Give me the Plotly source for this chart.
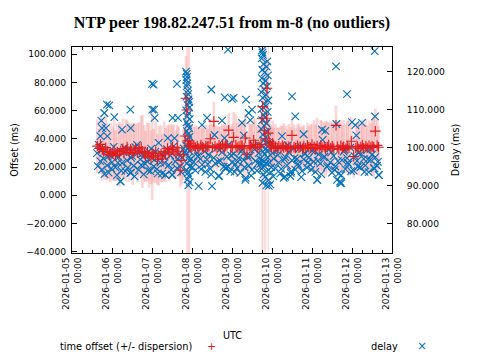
import plotly.graph_objects as go
from datetime import datetime, timedelta

BASE = datetime(2026, 1, 5)

# ---------------- time offset (ms) with dispersion (ms) ----------------
offset_hours = [
    15.2, 16.4, 17.1, 18.3, 19.0, 20.2, 21.1, 22.3, 23.0, 24.4, 25.3, 26.1, 27.2, 28.4, 29.3, 30.5, 31.2,
    32.4, 33.1, 34.3, 35.2, 36.4, 37.3, 38.2, 39.4, 40.3, 41.5, 42.2, 43.4, 44.1, 45.3, 46.2, 47.4, 48.1,
    49.0, 50.2, 51.3, 52.1, 53.4, 54.2, 55.3, 56.1, 57.3, 58.2, 59.4, 60.3, 61.1, 62.4, 63.2, 64.1, 64.9,
    65.9, 66.9,
    67.8, 68.4, 68.9, 69.5, 70.0, 70.6, 71.2,
    72.0, 73.1, 74.0, 75.2, 76.1, 77.3, 78.2, 79.0, 80.3, 81.2, 82.1, 83.0, 84.2, 85.1, 85.8, 87.0, 88.2,
    89.1, 90.3, 91.2, 92.0, 93.0, 94.0, 95.3, 96.2, 97.0, 98.3, 99.1, 100.2, 101.4, 102.1, 103.3, 104.0,
    105.0, 106.3, 107.2, 108.0, 109.0, 110.1, 111.2, 112.3,
    113.4, 114.0, 114.4, 115.4, 116.2, 116.8, 117.0, 117.8, 118.3, 119.0, 119.7, 120.4,
    121.1, 122.0, 123.2, 124.1, 125.3, 126.2, 127.0, 128.3, 129.2, 130.1, 131.3, 132.0, 133.2, 134.1,
    135.3, 136.2, 137.0, 138.3, 139.1, 140.2, 141.3, 142.1, 143.2, 144.0, 145.3, 146.2, 147.1, 148.3,
    149.2, 150.0, 151.3, 152.1, 153.2, 154.0, 155.3, 156.2, 157.1, 158.4, 159.2, 160.1, 161.3, 162.2,
    163.0, 164.3, 165.2, 166.2, 167.6, 169.0, 170.3, 171.2, 172.1, 173.3, 174.2, 175.0, 176.3, 177.1,
    178.2, 179.3, 180.1, 181.0, 182.0, 183.1, 183.9,
]
offset_ms = [
    34.8, 33.1, 36.0, 32.4, 30.9, 33.7, 31.2, 28.6, 30.2, 29.5, 32.0, 28.1, 30.7, 29.0, 31.6, 33.0, 29.7,
    31.9, 34.1, 30.4, 32.6, 29.3, 31.5, 33.4, 30.1, 32.8, 34.0, 31.1, 29.8, 27.6, 30.5, 28.4, 26.9, 29.6,
    28.0, 30.6, 25.3, 27.9, 29.4, 26.2, 31.0, 28.7, 33.2, 30.0, 32.4, 34.2, 31.3, 29.1, 33.6, 30.8, 17.7,
    24.6, 28.9,
    42.0, 68.7, 60.4, 38.5, 35.0, 36.8, 34.2,
    34.6, 35.3, 33.9, 34.8, 33.2, 35.6, 34.1, 33.5, 35.0, 34.4, 34.9, 40.0, 33.8, 52.3, 34.7, 33.3, 35.5,
    34.0, 36.2, 33.6, 34.9, 35.4, 46.1, 33.7, 34.5, 41.0, 35.4, 33.9, 34.6, 35.2, 35.0, 33.4, 40.5,
    29.0, 34.8, 35.2, 33.6, 39.0, 35.7, 33.8, 34.4,
    36.0, 54.5, 62.8, 46.0, 40.0, 54.5, 75.8, 44.0, 38.0, 35.5, 34.2, 36.8,
    33.7, 34.5, 33.1, 34.8, 33.4, 35.0, 33.9, 34.3, 32.8, 34.6, 33.2, 42.4, 34.0, 33.5,
    35.1, 33.7, 34.4, 32.9, 34.8, 33.3, 35.4, 34.0, 33.6, 36.0, 34.2, 33.0, 34.9, 33.5,
    35.3, 33.8, 34.5, 32.7, 34.1, 35.6, 33.4, 34.7, 33.1, 49.5, 34.3, 32.6, 35.0, 33.7,
    34.4, 33.0, 34.8, 33.6, 38.3, 27.4, 33.5, 34.6, 32.9, 34.2, 35.5, 33.3, 34.9, 33.6,
    35.1, 33.8, 34.5, 34.0, 45.4, 35.3, 34.0,
]
dispersion_ms = [
    19, 14, 21, 22, 18, 23, 20, 17, 21, 19, 22, 18, 20, 23, 19, 21, 17,
    22, 19, 21, 18, 22, 20, 17, 21, 19, 22, 26, 20, 18, 21, 23, 19, 33,
    19, 22, 18, 21, 20, 17, 21, 19, 16, 20, 18, 15, 19, 17, 16, 18, 12,
    17, 18,
    22, 30, 200, 200, 200, 200, 16,
    15, 13, 16, 14, 15, 12, 16, 14, 15, 13, 15, 14, 16, 14, 15, 16, 13,
    15, 14, 16, 15, 14, 12, 15, 16, 18, 22, 17, 19, 16, 18, 20, 17,
    16, 18, 15, 17, 16, 18, 15, 17,
    18, 200, 200, 200, 200, 25, 20, 200, 16, 15, 14, 16,
    14, 16, 15, 13, 16, 14, 17, 15, 14, 16, 15, 13, 16, 14,
    15, 17, 14, 16, 15, 13, 16, 15, 17, 14, 19, 17, 20, 16,
    18, 19, 17, 20, 18, 16, 19, 17, 18, 14, 17, 19, 18, 16,
    19, 17, 18, 20, 17, 15, 18, 17, 19, 16, 18, 17, 19, 16,
    18, 17, 20, 22, 16, 18, 15,
]

# ---------------- delay (ms) ----------------
delay_hours = [
    # hourly cloud
    15, 16, 17, 18, 19, 20, 21, 22, 23, 24, 25, 26, 27, 28, 29, 30, 31, 32, 33, 34, 35, 36, 37, 38, 39,
    40, 41, 42, 43, 44, 45, 46, 47, 48, 49, 50, 51, 52, 53, 54, 55, 56, 57, 58, 59, 60, 61, 62, 63, 64,
    65, 66, 67, 73, 74, 75, 76, 77, 78, 79, 80, 81, 82, 83, 84, 85, 86, 87, 88, 89, 90, 91, 92, 93, 94,
    95, 96, 97, 98, 99, 100, 101, 102, 103, 104, 105, 106, 107, 108, 109, 110, 111, 112, 113, 121, 122,
    123, 124, 125, 126, 127, 128, 129, 130, 131, 132, 133, 134, 135, 136, 137, 138, 139, 140, 141, 142,
    143, 144, 145, 146, 147, 148, 149, 150, 151, 152, 153, 154, 155, 156, 157, 158, 159, 160, 161, 162,
    163, 164, 165, 166, 167, 168, 169, 170, 171, 172, 173, 174, 175, 176, 177, 178, 179, 180, 181, 182,
    183, 184,
    # half-hour cloud
    15.5, 17.5, 19.5, 21.5, 23.5, 25.5, 27.5, 29.5, 31.5, 33.5, 35.5, 37.5, 39.5, 41.5, 43.5, 45.5, 47.5,
    49.5, 51.5, 53.5, 55.5, 57.5, 59.5, 61.5, 63.5, 65.5, 75.5, 77.5, 79.5, 81.5, 83.5, 85.5, 87.5, 89.5,
    91.5, 93.5, 95.5, 97.5, 99.5, 101.5, 103.5, 105.5, 107.5, 109.5, 111.5, 123.5, 125.5, 127.5, 129.5,
    131.5, 133.5, 135.5, 137.5, 139.5, 141.5, 143.5, 145.5, 147.5, 149.5, 151.5, 153.5, 155.5, 157.5,
    159.5, 161.5, 163.5, 165.5, 167.5, 169.5, 171.5, 173.5, 175.5, 177.5, 179.5, 181.5, 183.5,
    # scattered high / low values
    17.6, 18.0, 19.4, 20.4, 21.0, 22.4, 17.0, 21.2, 25.4, 30.0, 35.0, 35.2, 48.0, 48.2, 49.0, 49.2, 49.6,
    60.4, 63.0, 63.6, 78.0, 81.0, 83.6, 90.0, 91.6, 93.6, 96.0, 97.0, 102.0, 103.0, 104.4, 106.0, 107.0,
    108.0, 132.0, 134.0, 158.4, 158.6, 165.0, 181.6, 181.8, 29.2, 35.4, 56.0, 60.2, 88.2, 92.6, 104.2,
    127.8, 131.2, 147.2, 160.8, 161.6, 184.2, 139.0, 150.4, 170.6,
    # burst near 2026-01-07 21:00
    68.4, 68.8, 69.0, 68.6, 69.2, 68.9, 69.5, 69.7, 68.7, 69.9, 70.2, 69.4, 70.4, 68.5, 70.0, 69.1, 70.6,
    68.8, 69.6, 70.3, 68.9, 69.8, 70.5, 69.2, 70.1, 68.6, 69.5, 70.7, 68.3, 69.9, 70.4, 69.0, 70.8, 68.7,
    69.6, 70.2, 69.3, 70.6, 69.8, 71.5, 72.2, 67.6,
    # burst near 2026-01-09 18:00
    114.0, 114.3, 114.6, 113.8, 117.2, 114.9, 116.8, 114.2, 115.6, 117.5, 113.9, 116.1, 114.7, 117.0,
    115.2, 113.6, 116.5, 114.4, 117.8, 115.0, 116.3, 113.7, 117.4, 114.8, 115.9, 114.1, 116.7, 115.4,
    113.5, 117.1, 114.5, 116.0, 115.1, 117.6, 113.9, 116.4, 114.6, 115.7, 117.3, 114.2, 116.2, 115.3,
    113.8, 116.9, 114.9, 115.8, 117.9, 114.3, 116.6, 118.5, 119.2, 120.3, 118.8, 119.6, 120.8, 112.8,
    118.1, 119.0, 115.5, 116.9,
]
delay_ms = [
    # hourly cloud
    98.5, 100.7, 96.4, 94.2, 97.1, 99.2, 95.3, 93.4, 98.0, 96.1, 100.2, 94.8, 92.7, 97.5, 91.1, 95.9,
    98.8, 93.8, 96.6, 99.5, 93.3, 97.8, 95.2, 100.1, 100.7, 94.1, 96.9, 98.4, 92.9, 95.7, 96.4, 99.0,
    93.8, 97.2, 95.0, 98.9, 94.3, 101.2, 96.0, 93.1, 97.7, 92.8, 99.6, 95.4, 97.9, 92.8, 100.4, 96.3,
    94.6, 98.2, 95.1, 97.4, 99.8, 96.2, 94.0, 98.6, 89.8, 97.0, 95.5, 100.3, 93.6, 96.8, 98.1, 94.4,
    89.8, 97.3, 95.8, 99.9, 92.5, 96.5, 98.7, 94.9, 94.6, 97.6, 100.8, 93.7, 96.1, 98.3, 95.6, 94.6,
    97.2, 93.3, 99.4, 96.7, 91.5, 98.0, 95.2, 97.8, 94.1, 100.5, 96.4, 93.9, 98.5, 95.7, 97.1, 94.5,
    99.2, 96.0, 93.2, 103.0, 92.0, 97.5, 95.3, 98.8, 92.5, 96.6, 99.7, 94.2, 97.0, 95.1, 100.2, 93.8,
    96.9, 98.4, 94.7, 97.3, 95.5, 99.1, 96.3, 93.6, 91.5, 98.2, 95.8, 104.7, 97.4, 104.4, 94.9, 99.6,
    96.1, 93.4, 97.8, 95.0, 91.5, 93.1, 90.6, 96.7, 98.9, 94.3, 97.2, 95.6, 100.0, 106.7, 93.9, 105.9,
    96.5, 98.6, 94.8, 106.5, 97.0, 95.3, 99.3, 93.5, 96.8, 98.1, 94.6, 97.5, 95.2, 92.8,
    # half-hour cloud
    95.1, 99.3, 93.0, 97.6, 94.5, 98.1, 96.0, 93.9, 100.0, 94.7, 97.3, 92.4, 98.6, 95.4, 97.9, 94.0,
    99.7, 96.8, 93.2, 98.3, 95.9, 102.5, 94.1, 102.5, 97.0, 93.5, 97.7, 94.3, 99.0, 95.6, 92.9, 103.3,
    96.3, 99.8, 102.5, 95.0, 97.9, 93.6, 96.2, 98.9, 94.8, 97.4, 92.6, 99.5, 95.9, 98.0, 94.4, 96.9,
    100.6, 93.7, 97.2, 95.7, 92.2, 98.5, 96.0, 94.2, 99.0, 96.5, 93.0, 97.6, 95.3, 98.7, 94.1, 96.4,
    92.7, 99.4, 96.0, 93.8, 97.7, 95.0, 98.4, 93.6, 96.9, 99.8, 94.5, 96.2,
    # scattered high / low values
    107.1, 105.1, 109.1, 105.1, 111.3, 111.1, 103.0, 103.0, 108.0, 104.7, 110.0, 105.1, 116.8, 110.0,
    116.6, 110.0, 107.8, 107.8, 116.8, 107.8, 106.0, 107.8, 115.3, 107.1, 113.2, 125.8, 112.8, 113.1,
    106.5, 103.2, 112.6, 109.1, 107.2, 110.0, 113.5, 108.2, 121.4, 106.2, 114.1, 125.4, 108.2, 91.1,
    93.3, 92.8, 92.8, 92.5, 94.6, 92.0, 92.3, 93.3, 91.5, 91.0, 90.6, 92.7, 103.5, 102.0, 103.2,
    # burst near 2026-01-07 21:00
    120.0, 119.4, 118.6, 117.8, 116.9, 116.2, 115.0, 114.1, 113.4, 112.7, 112.0, 111.2, 110.5, 109.8,
    109.0, 108.2, 107.5, 106.7, 105.9, 105.1, 104.3, 103.6, 102.8, 102.0, 101.3, 100.5, 99.7, 99.0,
    98.2, 97.4, 96.6, 95.8, 95.0, 94.1, 93.3, 92.5, 91.6, 90.8, 90.0, 97.0, 94.8, 98.9,
    # burst near 2026-01-09 18:00
    125.6, 125.0, 124.4, 123.5, 122.7, 122.0, 121.3, 120.5, 119.8, 119.0, 118.3, 117.6, 116.9, 116.1,
    115.4, 114.6, 113.9, 113.1, 112.4, 111.6, 110.9, 110.1, 109.4, 108.7, 107.9, 107.2, 106.4, 105.7,
    104.9, 104.2, 103.4, 102.7, 101.9, 101.2, 100.4, 99.7, 98.9, 98.2, 97.4, 96.7, 95.9, 95.2,
    94.4, 93.7, 92.9, 92.2, 91.4, 90.7, 90.0, 96.0, 93.5, 98.5, 101.0, 94.8, 92.4, 97.0,
    89.9, 90.3, 96.3, 99.1,
]

x_ticks_days = 8


def to_time(hours):
    return [BASE + timedelta(hours=h) for h in hours]


t_off = to_time(offset_hours)
t_del = to_time(delay_hours)

# split normal dispersion from the very large (full-height) dispersion samples
normal_idx = [i for i, d in enumerate(dispersion_ms) if d < 100]
large_idx = [i for i, d in enumerate(dispersion_ms) if d >= 100]

RED = "#e41a1c"
BLUE = "rgb(0,114,189)"
FONT = "DejaVu Sans"

fig = go.Figure()

# dispersion band (vertical error bars)
fig.add_trace(go.Scatter(
    x=[t_off[i] for i in normal_idx], y=[offset_ms[i] for i in normal_idx], mode="markers",
    marker=dict(size=1, color="rgba(0,0,0,0)"),
    error_y=dict(type="data", array=[dispersion_ms[i] for i in normal_idx], visible=True,
                 color="rgba(242,110,110,0.28)", thickness=2.7, width=0),
    showlegend=False, hoverinfo="skip", yaxis="y",
))
fig.add_trace(go.Scatter(
    x=[t_off[i] for i in large_idx], y=[offset_ms[i] for i in large_idx], mode="markers",
    marker=dict(size=1, color="rgba(0,0,0,0)"),
    error_y=dict(type="data", array=[dispersion_ms[i] for i in large_idx], visible=True,
                 color="rgba(242,110,110,0.22)", thickness=1.3, width=0),
    showlegend=False, hoverinfo="skip", yaxis="y",
))

# delay
fig.add_trace(go.Scatter(
    x=t_del, y=delay_ms, mode="markers", name="delay",
    marker=dict(symbol="x-thin", size=7.5, line=dict(width=1.1, color=BLUE), color=BLUE),
    yaxis="y2", showlegend=False,
))

# offset markers
fig.add_trace(go.Scatter(
    x=t_off, y=offset_ms, mode="markers", name="time offset (+/- dispersion)",
    marker=dict(symbol="cross-thin", size=7.5, line=dict(width=1.1, color=RED), color=RED),
    yaxis="y3", showlegend=False,
))

y_left_range = [-40.9, 105.0]
tickfont = dict(family=FONT, size=9.2, color="black")
labelfont = dict(family=FONT, size=9.6, color="black")

fig.update_layout(
    width=480, height=360,
    margin=dict(l=72, r=88, t=47, b=107, autoexpand=False),
    paper_bgcolor="white", plot_bgcolor="white",
    showlegend=False,
    title=dict(text="<b>NTP peer 198.82.247.51 from m-8 (no outliers)</b>",
               x=0.5, xref="paper", xanchor="center", y=1 - 22 / 360, yanchor="middle",
               font=dict(family="Liberation Serif", size=16, color="black")),
    xaxis=dict(
        type="date",
        range=[BASE, BASE + timedelta(days=x_ticks_days)],
        tick0=BASE, dtick=86400000, tickformat="%Y-%m-%d<br>%H:%M", tickangle=-90,
        ticks="inside", ticklen=5, tickcolor="black", tickwidth=1,
        showline=True, linecolor="black", linewidth=1, mirror="ticks",
        showgrid=False, zeroline=False,
        minor=dict(dtick=6 * 3600 * 1000, ticks="inside", ticklen=3, tickcolor="black", showgrid=False),
        tickfont=dict(family=FONT, size=9.0, color="black"),
    ),
    yaxis=dict(
        range=y_left_range, tick0=0, dtick=20, tickformat=".3f",
        ticks="inside", ticklen=5, tickcolor="black",
        showline=True, linecolor="black", linewidth=1,
        showgrid=False, zeroline=False, tickfont=tickfont,
        ticklabelstandoff=3,
        title=dict(text="Offset (ms)", font=labelfont, standoff=5),
    ),
    yaxis2=dict(
        overlaying="y", side="right", range=[72.2, 126.5], tick0=0, dtick=10, tickformat=".3f",
        ticks="inside", ticklen=5, tickcolor="black",
        showline=True, linecolor="black", linewidth=1,
        showgrid=False, zeroline=False, tickfont=tickfont,
        ticklabelstandoff=12,
        title=dict(text="Delay (ms)", font=labelfont, standoff=8),
    ),
    yaxis3=dict(overlaying="y", range=y_left_range, visible=False),
    annotations=[
        dict(text="UTC", xref="paper", yref="paper", x=0.5, y=(253 - 335) / 206,
             xanchor="center", yanchor="middle", showarrow=False, font=labelfont),
        dict(text="time offset (+/- dispersion)", xref="paper", yref="paper",
             x=(58 - 72) / 320, y=(253 - 346) / 206, xanchor="left", yanchor="middle",
             showarrow=False, font=dict(family=FONT, size=9.8, color="black")),
        dict(text="+", xref="paper", yref="paper", x=(211 - 72) / 320, y=(253 - 346) / 206,
             xanchor="center", yanchor="middle", showarrow=False,
             font=dict(family=FONT, size=11, color=RED)),
        dict(text="delay", xref="paper", yref="paper", x=(400 - 72) / 320, y=(253 - 346) / 206,
             xanchor="right", yanchor="middle", showarrow=False,
             font=dict(family=FONT, size=9.8, color="black")),
        dict(text="×", xref="paper", yref="paper", x=(421.5 - 72) / 320, y=(253 - 346) / 206,
             xanchor="center", yanchor="middle", showarrow=False,
             font=dict(family=FONT, size=12, color=BLUE)),
    ],
)

fig.write_html("out.html", config={"displayModeBar": False},
               post_script="document.body.style.margin='0';")
